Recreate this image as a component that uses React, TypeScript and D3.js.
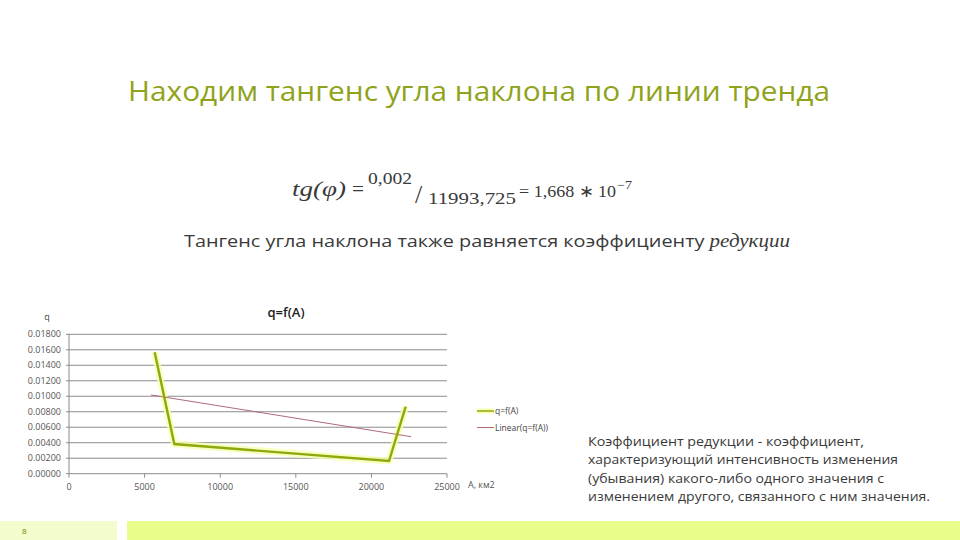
import React from "react";
import * as d3 from "d3";

const areas = [5668, 6964, 21164, 22269];
const qValues = [0.01568, 0.00383, 0.00164, 0.00865];
const trendAreas = [5423, 22619];
const trendValues = [0.01017, 0.00478];
const yTicks = [0, 0.002, 0.004, 0.006, 0.008, 0.01, 0.012, 0.014, 0.016, 0.018];
const xTicks = [0, 5000, 10000, 15000, 20000, 25000];
const seriesNames = ["q=f(A)", "Linear(q=f(A))"];
const paragraph = [
  "Коэффициент редукции - коэффициент,",
  "характеризующий интенсивность изменения",
  "(убывания) какого-либо одного значения с",
  "изменением другого, связанного с ним значения.",
];
const paragraphWidths = [276, 310, 296, 342];

const W = 960;
const H = 540;

export default function App() {
  const x = d3.scaleLinear().domain([0, 25000]).range([69, 447]);
  const y = d3.scaleLinear().domain([0, 0.018]).range([473.7, 334.3]);
  const line = d3
    .line<[number, number]>()
    .x((d) => x(d[0]))
    .y((d) => y(d[1]));
  const series: [number, number][] = areas.map((a, i) => [a, qValues[i]]);
  const trend: [number, number][] = trendAreas.map((a, i) => [a, trendValues[i]]);
  const fmtY = (v: number) => v.toFixed(5);
  const tickFont = "'Open Sans', sans-serif";
  const adj = "spacingAndGlyphs";

  return (
    <svg
      width={W}
      height={H}
      style={{ position: "fixed", left: 0, top: 0, background: "#fff" }}
    >
      <rect x={0} y={0} width={W} height={H} fill="#ffffff" />
      {/* Title */}
      <text
        x={128}
        y={101}
        fontFamily="'Open Sans', sans-serif"
        fontSize={27}
        fill="#8fa31a"
        textLength={702}
        lengthAdjust={adj}
      >
        Находим тангенс угла наклона по линии тренда
      </text>

      {/* Formula */}
      <g fontFamily="'Liberation Serif', serif" fill="#3a3a3a">
        <text x={292} y={196} fontSize={21} fontStyle="italic" textLength={54} lengthAdjust={adj}>
          tg(φ)
        </text>
        <text x={352} y={196} fontSize={20} textLength={12} lengthAdjust={adj}>=</text>
        <text x={368} y={184} fontSize={16} textLength={44} lengthAdjust={adj}>0,002</text>
        <text x={415} y={203} fontSize={26}>/</text>
        <text x={428} y={204} fontSize={17} textLength={88} lengthAdjust={adj}>11993,725</text>
        <text x={519} y={197} fontSize={17} textLength={97} lengthAdjust={adj}>= 1,668 ∗ 10</text>
        <text x={617} y={189} fontSize={12} textLength={15} lengthAdjust={adj}>−7</text>
      </g>

      {/* Subtitle */}
      <text
        x={184}
        y={247}
        fontFamily="'Open Sans', sans-serif"
        fontSize={17}
        fill="#3a3a3a"
        textLength={606}
        lengthAdjust={adj}
      >
        Тангенс угла наклона также равняется коэффициенту{" "}
        <tspan fontStyle="italic" fontFamily="'Liberation Serif', serif" fontSize={18}>
          редукции
        </tspan>
      </text>

      {/* Chart */}
      <text
        x={286}
        y={317}
        textAnchor="middle"
        fontFamily="'Open Sans', sans-serif"
        fontWeight={600}
        fontSize={13}
        fill="#222"
      >
        q=f(A)
      </text>
      <text x={47} y={320} textAnchor="middle" fontFamily={tickFont} fontSize={9} fill="#444">
        q
      </text>

      <g>
        {yTicks.map((t) => (
          <g key={t}>
            <line x1={66} x2={447} y1={y(t)} y2={y(t)} stroke="#8c8c8c" strokeWidth={1} />
            <text
              x={61}
              y={y(t) + 3}
              textAnchor="end"
              fontFamily={tickFont}
              fontSize={9}
              fill="#555"
            >
              {fmtY(t)}
            </text>
          </g>
        ))}
        <line x1={69} x2={69} y1={y(0.018)} y2={y(0)} stroke="#8c8c8c" strokeWidth={1} />
        {xTicks.map((t) => (
          <g key={t}>
            <line x1={x(t)} x2={x(t)} y1={y(0)} y2={y(0) + 4} stroke="#8c8c8c" strokeWidth={1} />
            <text
              x={x(t)}
              y={490}
              textAnchor="middle"
              fontFamily={tickFont}
              fontSize={9}
              fill="#555"
            >
              {t}
            </text>
          </g>
        ))}
        <text x={468} y={488} fontFamily={tickFont} fontSize={9} fill="#555">
          A, км2
        </text>
      </g>

      {/* series glow */}
      <path
        d={line(series) || ""}
        fill="none"
        stroke="#f7ffb0"
        strokeWidth={7}
        strokeLinejoin="round"
        opacity={0.8}
      />
      <path d={line(trend) || ""} fill="none" stroke="#b06a78" strokeWidth={1} />
      <path
        d={line(series) || ""}
        fill="none"
        stroke="#8fa80e"
        strokeWidth={2.4}
        strokeLinejoin="miter"
      />

      {/* Legend */}
      <line x1={477} x2={494} y1={411} y2={411} stroke="#f7ffb0" strokeWidth={5} />
      <line x1={477} x2={494} y1={411} y2={411} stroke="#8fa80e" strokeWidth={1.5} />
      <text x={495} y={414} fontFamily={tickFont} fontSize={8.5} fill="#444">
        {seriesNames[0]}
      </text>
      <line x1={477} x2={494} y1={427.5} y2={427.5} stroke="#b06a78" strokeWidth={1} />
      <text x={495} y={430.5} fontFamily={tickFont} fontSize={8.5} fill="#444">
        {seriesNames[1]}
      </text>

      {/* Paragraph */}
      {paragraph.map((s, i) => (
        <text
          key={i}
          x={588}
          y={446 + i * 18.3}
          fontFamily="'Open Sans', sans-serif"
          fontSize={12.5}
          fill="#3a3a3a"
          textLength={paragraphWidths[i]}
          lengthAdjust={adj}
        >
          {s}
        </text>
      ))}

      {/* Bottom bar */}
      <rect x={0} y={521} width={117} height={19} fill="#f3fccd" />
      <rect x={127} y={521} width={833} height={19} fill="#e8fd8c" />
      <text x={22} y={534} fontFamily={tickFont} fontSize={8} fill="#6f7f00">
        8
      </text>
    </svg>
  );
}
